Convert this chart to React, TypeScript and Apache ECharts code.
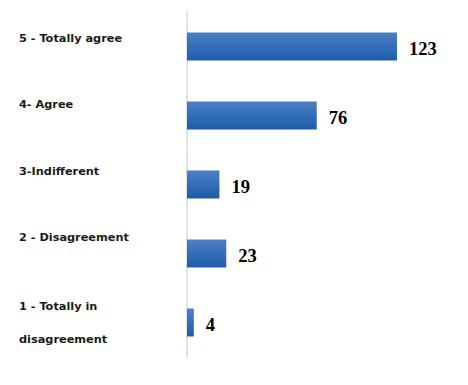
import React, { useEffect, useRef } from "react";
import * as echarts from "echarts";

const categories: string[] = [
  "5 - Totally agree",
  "4- Agree",
  "3-Indifferent",
  "2 - Disagreement",
  "1 - Totally in\ndisagreement",
];
const values: number[] = [123, 76, 19, 23, 4];

// blank-line heights used to lift single-line category labels above band centre
const lift = [17, 23, 27, 33, 0];

const labelFont = {
  fontFamily: "DejaVu Sans",
  fontWeight: "bold" as const,
  fontSize: 11.3,
  color: "#1b1b1b",
};

export default function App() {
  const ref = useRef<HTMLDivElement>(null);
  useEffect(() => {
    if (!ref.current) return;
    const chart = echarts.init(ref.current, undefined, { renderer: "svg" });
    const rich: Record<string, any> = {
      d: { ...labelFont, lineHeight: 33 },
      t: { ...labelFont, lineHeight: 16 },
    };
    lift.forEach((h, i) => {
      rich["g" + i] = { ...labelFont, lineHeight: h };
    });
    chart.setOption({
      animation: false,
      backgroundColor: "#ffffff",
      grid: { left: 187, top: 12, bottom: 28, width: 239 },
      xAxis: {
        type: "value",
        min: 0,
        max: 140,
        show: false,
      },
      yAxis: {
        type: "category",
        data: categories,
        inverse: true,
        offset: 1,
        axisLine: { show: true, lineStyle: { color: "#dde3eb", width: 2 } },
        axisTick: { show: false },
        axisLabel: {
          align: "left",
          margin: 167,
          formatter: (v: string, idx: number) => {
            const parts = v.split("\n");
            if (parts.length > 1) {
              return parts.map((p) => `{d|${p}}`).join("\n");
            }
            return `{t|${v}}\n{g${idx}| }`;
          },
          rich,
        },
      },
      series: [
        {
          type: "bar",
          data: values,
          barWidth: 28,
          itemStyle: {
            color: new echarts.graphic.LinearGradient(0, 0, 0, 1, [
              { offset: 0, color: "#4c80c5" },
              { offset: 1, color: "#1d5caa" },
            ]),
          },
          label: {
            show: true,
            position: "right",
            distance: 12,
            offset: [0, 2],
            fontFamily: "Liberation Serif",
            fontWeight: "bold",
            fontSize: 18.5,
            color: "#000000",
          },
        },
      ],
    });
    return () => chart.dispose();
  }, []);
  return <div ref={ref} style={{ width: 468, height: 385, position: "absolute", left: 0, top: 0 }} />;
}
